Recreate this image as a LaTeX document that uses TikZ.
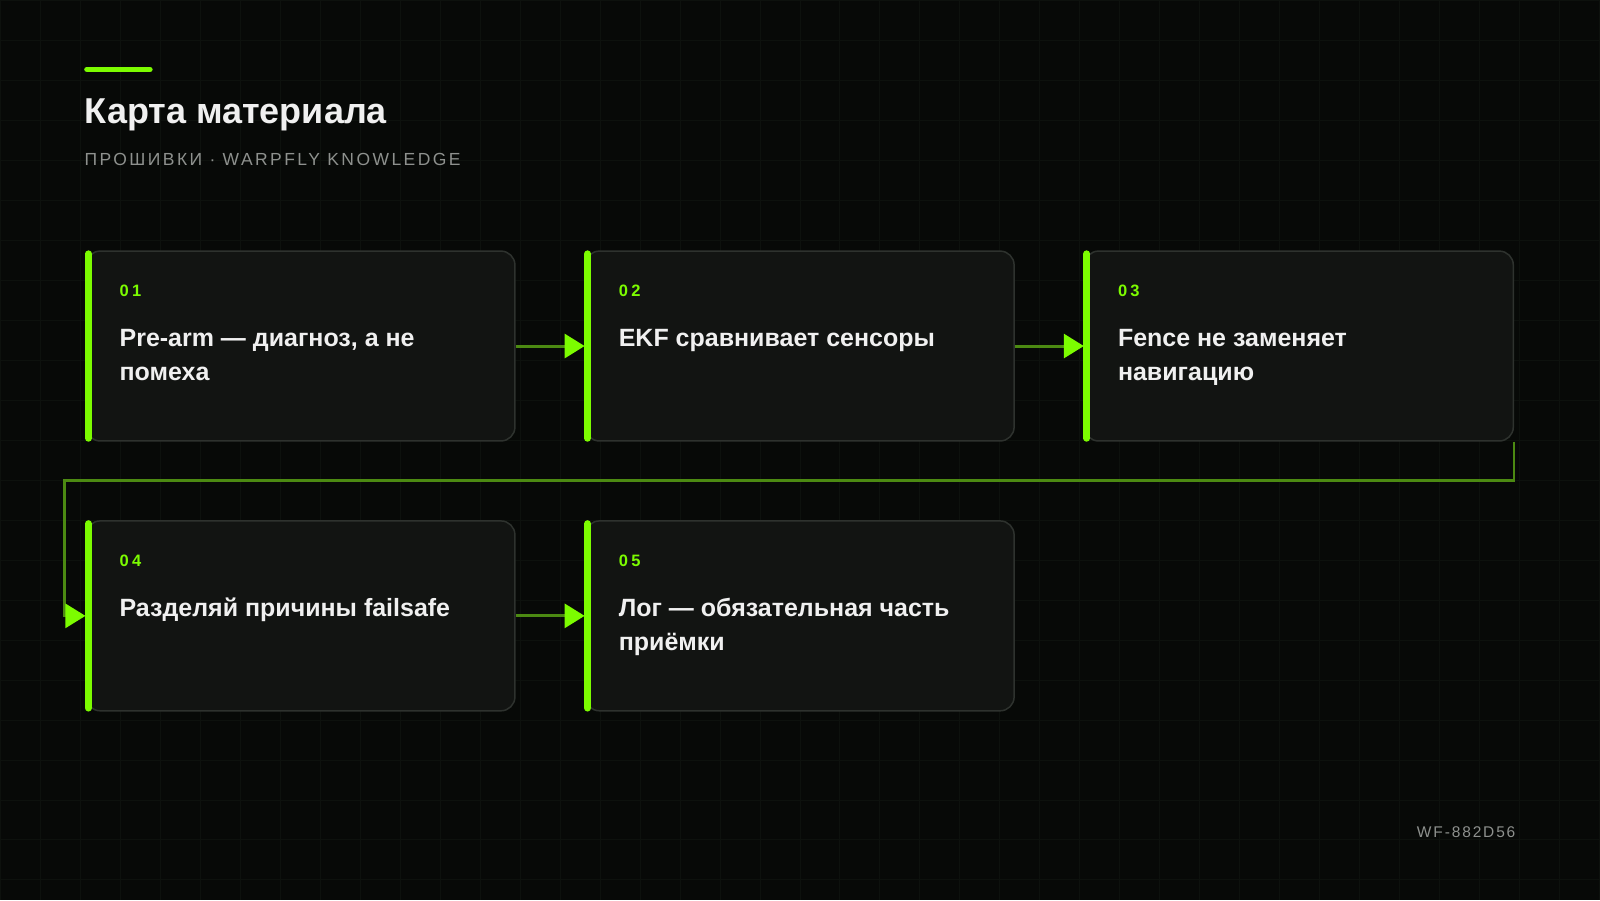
\documentclass[tikz,border=0pt]{standalone}
\usepackage{fontspec}
\setmainfont{Liberation Sans}
\usetikzlibrary{arrows.meta,positioning}

\definecolor{bg}{HTML}{070907}
\definecolor{gridc}{HTML}{0D110D}
\definecolor{cardbg}{HTML}{121412}
\definecolor{cardline}{HTML}{2E322E}
\definecolor{acid}{HTML}{7CFC00}
\definecolor{wire}{HTML}{4C8A12}
\definecolor{muted}{HTML}{8E918E}
\definecolor{ink}{HTML}{F0F0F0}

\tikzset{
	gridline/.style={gridc, line width=1pt},
	card/.style={draw=cardline, line width=1.5pt, fill=cardbg, rounded corners=14pt,
		minimum width=429pt, minimum height=190pt, anchor=north west, inner sep=0pt},
	bar/.style={acid, line width=7pt, line cap=round},
	numlabel/.style={acid, inner sep=0pt, anchor=base west,
		font=\fontsize{16.5}{20}\selectfont\bfseries\addfontfeature{LetterSpace=20}},
	cardtext/.style={ink, inner sep=0pt, anchor=base west, align=left,
		font=\fontsize{25}{34}\selectfont\bfseries},
	flow/.style={wire, line width=3pt, -{Triangle[length=20pt, width=24pt, color=acid]}},
}

\begin{document}
\begin{tikzpicture}[x=1pt, y=-1pt]
	% background and grid
	\fill[bg] (0,0) rectangle (1600,900);
	\foreach \gx in {0,40,...,1600} {
		\draw[gridline] (\gx,0) -- (\gx,900);
	}
	\foreach \gy in {0,40,...,880} {
		\draw[gridline] (0,\gy) -- (1600,\gy);
	}
	
	% heading
	\draw[acid, line width=5.5pt, line cap=round] (86.5,69) -- (149.5,69);
	\node[ink, inner sep=0pt, anchor=base west, font=\fontsize{36}{42}\selectfont\bfseries]
		(title) at (84,123) {Карта материала};
	\node[muted, inner sep=0pt, anchor=base west,
		font=\fontsize{17.5}{21}\selectfont\addfontfeature{LetterSpace=14}]
		(subtitle) at (84,165) {ПРОШИВКИ · WARPFLY KNOWLEDGE};
	
	% step cards (number / lines / text)
	\foreach \num/\nlines/\txt [count=\n] in {
		01/2/{Pre-arm — диагноз, а не\\помеха},
		02/1/{EKF сравнивает сенсоры},
		03/2/{Fence не заменяет\\навигацию},
		04/1/{Разделяй причины failsafe},
		05/2/{Лог — обязательная часть\\приёмки}%
	} {
		\pgfmathsetmacro\cx{85 + 499.5*mod(\n-1,3)}
		\pgfmathsetmacro\cy{250 + 270*int((\n-1)/3)}
		\pgfmathsetmacro\ty{\cy + 96 + 34*(\nlines-1)}
		\node[card] (card\n) at (\cx,\cy) {};
		\draw[bar] ([shift={(3,3.5)}]card\n.north west) -- ([shift={(3,-3.5)}]card\n.south west);
		\node[numlabel] (num\n) at (\cx+34,\cy+46) {\num};
		\node[cardtext] (txt\n) at (\cx+34,\ty) {\txt};
	}
	
	% connectors
	\draw[flow] (card1.east) -- (card2.west);
	\draw[flow] (card2.east) -- (card3.west);
	\coordinate (wrap) at (64,480);
	\draw[flow, line width=2.8pt] (card3.south east) |- (wrap) |- (card4.west);
	\draw[flow] (card4.east) -- (card5.west);
	
	% footer tag
	\node[muted, inner sep=0pt, anchor=base east,
		font=\fontsize{15.5}{18}\selectfont\addfontfeature{LetterSpace=12}]
		(tag) at (1516,838) {WF-882D56};
\end{tikzpicture}
\end{document}
